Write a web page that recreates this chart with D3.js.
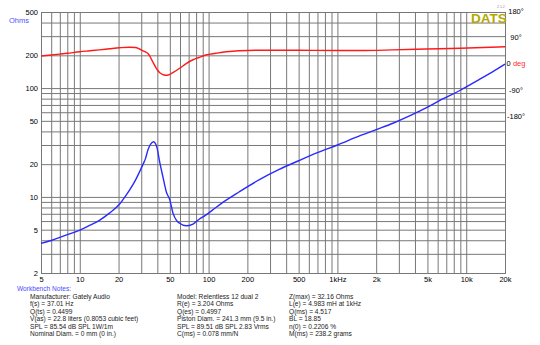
<!DOCTYPE html>
<html>
<head>
<meta charset="utf-8">
<script src="https://cdn.jsdelivr.net/npm/d3@7"></script>
<style>
  body { margin: 0; background: #fff; }
  svg { display: block; font-family: "Liberation Sans", Arial, sans-serif; }
</style>
</head>
<body>
<svg id="chart" width="540" height="345"></svg>
<script>
// Impedance magnitude sweep (Hz, Ohms)
const impFreq = [5, 6, 7, 8, 10, 12, 14.2, 17, 20.4, 22.4, 24.4, 27, 29.1, 31, 32.4, 33.8, 35.5, 37.4, 38.6, 39.7,
  41.7, 44.2, 47, 50, 52.9, 56.3, 59.6, 67, 75, 84, 95, 114, 137, 172, 250, 350, 500, 700, 1000, 1500,
  2000, 2700, 3700, 4920, 6500, 8930, 12500, 16000, 20000];
const impOhms = [3.74, 3.98, 4.25, 4.5, 4.96, 5.5, 6.1, 7.1, 8.6, 10, 11.6, 14.2, 17, 20, 22.6, 27, 30.5, 32.16, 31, 28.5,
  21, 15.3, 11.1, 9.4, 7.1, 6.1, 5.73, 5.43, 5.6, 6.2, 6.8, 8, 9.35, 11.1, 14.5, 17.8, 21.5, 25.5, 30, 36.5,
  41.5, 47.5, 56, 66, 79, 95, 119, 141, 166];

// Impedance phase sweep (Hz, degrees)
const phaseFreq = [5, 6, 7, 8, 10, 12, 14.2, 17, 20.4, 24.4, 27, 29.1, 31, 32.8, 33.8, 34.9, 36.1, 37.4, 38.7,
  40.1, 41.6, 43.8, 46.2, 48.6, 51.6, 55.4, 59.6, 67, 75, 84, 95, 114, 137, 172, 237, 500, 1000, 1500,
  2700, 4920, 9000, 20000];
const phaseDeg = [27, 30.3, 33.4, 36.2, 41.4, 44.8, 48, 51.7, 55.2, 57.2, 56.2, 51, 44.8, 39.7, 35.5, 27, 14.5, 1.7, -10.3,
  -21.4, -30, -36.6, -39.3, -38.6, -33.4, -24.8, -15.5, 0.7, 13.1, 21.7, 30.3, 36.2, 41.4, 45.2, 46.9, 46.5, 45.9, 45.9,
  48, 51, 53.8, 59];

// Grid and tick values
const freqGrid = [5, 6, 7, 8, 9, 10, 20, 30, 40, 50, 60, 70, 80, 90, 100, 200, 300, 400, 500, 600, 700, 800, 900,
  1000, 2000, 3000, 4000, 5000, 6000, 7000, 8000, 9000, 10000, 20000];
const freqLabels = [5, 10, 20, 50, 100, 200, 500, 1000, 2000, 5000, 10000, 20000];
const freqLabelText = ["5", "10", "20", "50", "100", "200", "500", "1kHz", "2k", "5k", "10k", "20k"];
const ohmGrid = [2, 3, 4, 5, 6, 7, 8, 9, 10, 20, 30, 40, 50, 60, 70, 80, 90, 100, 200, 300, 400, 500];
const ohmLabels = [2, 5, 10, 20, 50, 100, 200, 500];
const phaseTicks = [180, 90, 0, -90, -180];

// Workbench notes, three columns
const notesCol1 = ["Manufacturer: Gately Audio", "f(s) = 37.01 Hz", "Q(ts) = 0.4499",
  "V(as) = 22.8 liters  (0.8053 cubic feet)", "SPL = 85.54 dB SPL 1W/1m", "Nominal Diam. = 0 mm (0 in.)"];
const notesCol2 = ["Model: Relentless 12 dual 2", "R(e) = 3.204 Ohms", "Q(es) = 0.4997",
  "Piston Diam. = 241.3 mm (9.5 in.)", "SPL = 89.51 dB SPL 2.83 Vrms", "C(ms) = 0.078 mm/N"];
const notesCol3 = ["Z(max) = 32.16 Ohms", "L(e) = 4.983 mH at 1kHz", "Q(ms) = 4.517",
  "BL = 18.85", "n(0) = 0.2206 %", "M(ms) = 238.2 grams"];

const svg = d3.select("#chart");
const plotLeft = 41, plotRight = 505, plotTop = 12, plotBottom = 273;

const x = d3.scaleLog().domain([5, 20000]).range([plotLeft, plotRight]);
const y = d3.scaleLog().domain([2, 500]).range([plotBottom, plotTop]);
const yPhase = d3.scaleLinear().domain([-180, 180]).range([116, 11.6]);

const gridColor = "#787878";
const labelMap = new Map(freqLabels.map((f, i) => [f, freqLabelText[i]]));

// Vertical grid + frequency labels
const gx = svg.append("g")
  .attr("transform", `translate(0,${plotBottom})`)
  .call(d3.axisBottom(x).tickValues(freqGrid).tickSize(-(plotBottom - plotTop)).tickPadding(4)
    .tickFormat(d => labelMap.get(d) || ""));
gx.select(".domain").remove();
gx.selectAll(".tick line").attr("stroke", gridColor);
gx.selectAll(".tick text").attr("font-size", 7.5).attr("fill", "#000")
  .attr("font-family", "'Liberation Sans', Arial, sans-serif");

// Horizontal grid + ohm labels
const gy = svg.append("g")
  .attr("transform", `translate(${plotLeft},0)`)
  .call(d3.axisLeft(y).tickValues(ohmGrid).tickSize(-(plotRight - plotLeft)).tickPadding(3)
    .tickFormat(d => ohmLabels.includes(d) ? String(d) : ""));
gy.select(".domain").remove();
gy.selectAll(".tick line").attr("stroke", gridColor);
gy.selectAll(".tick text").attr("font-size", 7.5).attr("fill", "#000")
  .attr("font-family", "'Liberation Sans', Arial, sans-serif");

// Plot frame
svg.append("rect")
  .attr("x", plotLeft + 0.5).attr("y", plotTop + 0.5)
  .attr("width", plotRight - plotLeft).attr("height", plotBottom - plotTop)
  .attr("fill", "none").attr("stroke", gridColor);

// Phase axis labels on the right
const phaseLabels = svg.append("g").attr("font-size", 7.5);
phaseTicks.forEach(d => {
  const t = phaseLabels.append("text")
    .attr("x", 516).attr("y", yPhase(d)).attr("dy", "0.35em")
    .attr("text-anchor", "middle").attr("fill", "#000");
  if (d === 0) {
    t.append("tspan").text("0 ");
    t.append("tspan").attr("fill", "#ff3030").text("deg");
  } else {
    t.text(d + "\u00b0");
  }
});

// Curves
const impLine = d3.line()
  .x((d, i) => x(impFreq[i]))
  .y(d => y(d))
  .curve(d3.curveMonotoneX);
const phaseLine = d3.line()
  .x((d, i) => x(phaseFreq[i]))
  .y(d => yPhase(d))
  .curve(d3.curveMonotoneX);

svg.append("path").datum(phaseDeg)
  .attr("d", phaseLine).attr("fill", "none")
  .attr("stroke", "#ff1a1a").attr("stroke-width", 1.4);
svg.append("path").datum(impOhms)
  .attr("d", impLine).attr("fill", "none")
  .attr("stroke", "#2a2aff").attr("stroke-width", 1.4);

// Unit label and logo
svg.append("text").attr("x", 9).attr("y", 23).attr("font-size", 7.5)
  .attr("fill", "#5050ff").text("Ohms");
svg.append("text").attr("x", 471).attr("y", 23).attr("font-size", 13.5)
  .attr("font-weight", "bold").attr("fill", "#b3a800").text("DATS");
svg.append("text").attr("x", 497).attr("y", 8).attr("font-size", 3.5)
  .attr("fill", "#888").text("2.1.2");

// Notes block
svg.append("text").attr("x", 17).attr("y", 291).attr("font-size", 6.6)
  .attr("fill", "#4a4aff").text("Workbench Notes:");
const rowY = i => 298.5 + i * 7.5;
[[30, notesCol1], [177, notesCol2], [289, notesCol3]].forEach(([cx, col]) => {
  svg.append("g").selectAll("text").data(col).join("text")
    .attr("x", cx).attr("y", (d, i) => rowY(i))
    .attr("font-size", 6.6).attr("fill", "#222").text(d => d);
});
</script>
</body>
</html>
